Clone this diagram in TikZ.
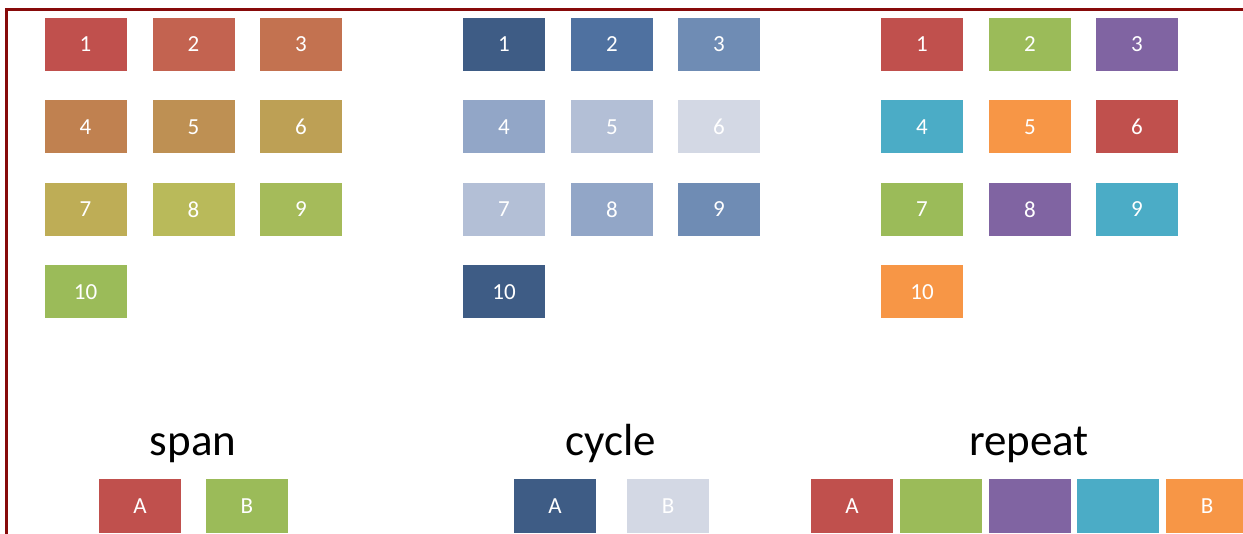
\documentclass[tikz,border=0pt]{standalone}
\usepackage{fontspec}
\setmainfont{Carlito}
\definecolor{frame}{RGB}{135,10,10}
\definecolor{cR}{RGB}{192,80,77}
\definecolor{cG}{RGB}{155,187,89}
\definecolor{cP}{RGB}{128,100,162}
\definecolor{cA}{RGB}{75,172,198}
\definecolor{cO}{RGB}{247,150,70}
\definecolor{b1}{RGB}{62,92,133}
\definecolor{b2}{RGB}{79,113,160}
\definecolor{b3}{RGB}{111,140,180}
\definecolor{b4}{RGB}{146,166,199}
\definecolor{b5}{RGB}{179,191,214}
\definecolor{b6}{RGB}{211,216,228}
\definecolor{g1}{RGB}{192,80,77}
\definecolor{g2}{RGB}{195,99,80}
\definecolor{g3}{RGB}{195,114,80}
\definecolor{g4}{RGB}{192,129,80}
\definecolor{g5}{RGB}{190,144,83}
\definecolor{g6}{RGB}{189,160,85}
\definecolor{g7}{RGB}{190,173,86}
\definecolor{g8}{RGB}{185,186,90}
\definecolor{g9}{RGB}{165,187,90}
\definecolor{g10}{RGB}{155,187,89}
\tikzset{
  tile/.style={minimum width=82pt, minimum height=53pt, inner sep=0pt, text=white, font=\fontsize{23}{23}\selectfont},
  ttl/.style={anchor=base, inner sep=0pt, font=\fontsize{45}{45}\selectfont}
}
\begin{document}
\begin{tikzpicture}[x=1pt,y=-1pt]
\useasboundingbox (0,0) rectangle (1243,534);
\clip (0,0) rectangle (1243,534);
\fill[white] (0,0) rectangle (1243,534);
\draw[frame, line width=3pt] (6,540) -- (6,10) -- (1250,10);
% span grid
\foreach \i/\x/\y in {1/85.5/44.5, 2/193.5/44.5, 3/301/44.5, 4/85.5/127, 5/193.5/127, 6/301/127, 7/85.5/209.5, 8/193.5/209.5, 9/301/209.5, 10/85.5/292}{
  \node[tile, fill=g\i] (s\i) at (\x,\y) {\i};
}
% cycle grid
\foreach \i/\x/\y/\c in {1/504/44.5/b1, 2/612/44.5/b2, 3/719/44.5/b3, 4/504/127/b4, 5/612/127/b5, 6/719/127/b6, 7/504/209.5/b5, 8/612/209.5/b4, 9/719/209.5/b3, 10/504/292/b1}{
  \node[tile, fill=\c] (c\i) at (\x,\y) {\i};
}
% repeat grid
\foreach \i/\x/\y/\c in {1/922/44.5/cR, 2/1030/44.5/cG, 3/1137/44.5/cP, 4/922/127/cA, 5/1030/127/cO, 6/1137/127/cR, 7/922/209.5/cG, 8/1030/209.5/cP, 9/1137/209.5/cA, 10/922/292/cO}{
  \node[tile, fill=\c] (r\i) at (\x,\y) {\i};
}
% titles
\node[ttl] (tspan) at (193,456) {span};
\node[ttl] (tcycle) at (611,456) {cycle};
\node[ttl] (trepeat) at (1029,456) {repeat};
% bottom tiles
\node[tile, fill=cR] (sA) at (140,506) {A};
\node[tile, fill=cG] (sB) at (247,506) {B};
\node[tile, fill=b1] (cA) at (555,506) {A};
\node[tile, fill=b6] (cB) at (668,506) {B};
\node[tile, fill=cR] (rA) at (852,506) {A};
\node[tile, fill=cG] (r2b) at (941,506) {};
\node[tile, fill=cP] (r3b) at (1030,506) {};
\node[tile, fill=cA] (r4b) at (1118,506) {};
\node[tile, fill=cO] (rB) at (1207,506) {B};
\end{tikzpicture}
\end{document}
